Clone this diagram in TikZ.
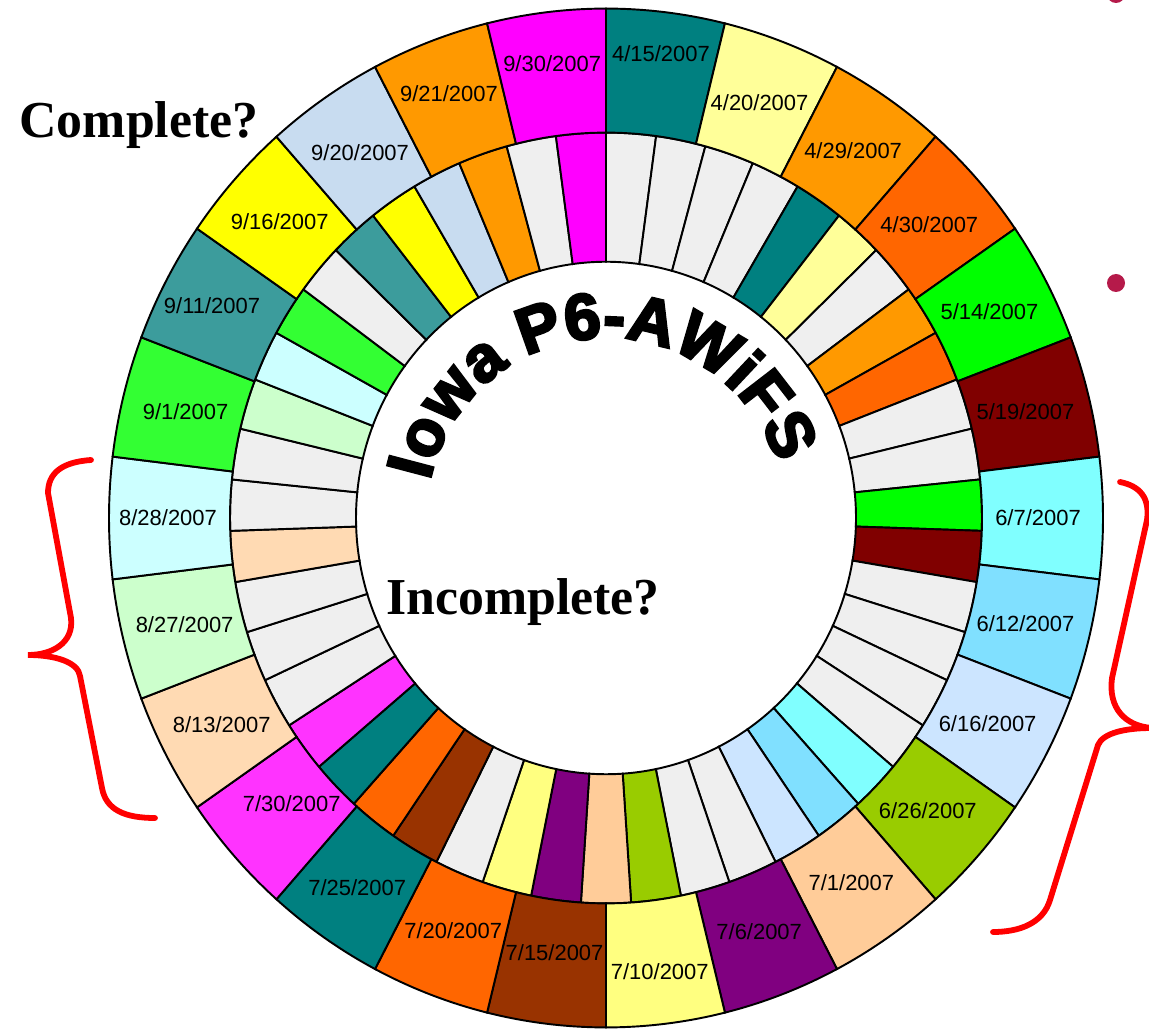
\documentclass[tikz,border=0pt]{standalone}
\usepackage{fontspec}
\setmainfont{Liberation Serif}
\setsansfont{Liberation Sans}
\newfontfamily\heavyfont[FakeBold=4, BoldFeatures={FakeBold=4}]{Liberation Sans}
\usetikzlibrary{decorations.text}

\definecolor{seaTeal}{HTML}{008080}
\definecolor{paleYellow}{HTML}{FFFF99}
\definecolor{amber}{HTML}{FF9900}
\definecolor{flame}{HTML}{FF6600}
\definecolor{brightGreen}{HTML}{00FF00}
\definecolor{maroonRed}{HTML}{800000}
\definecolor{aquaBlue}{HTML}{80FFFF}
\definecolor{skyBlue}{HTML}{80E0FF}
\definecolor{iceBlue}{HTML}{CCE5FF}
\definecolor{leafGreen}{HTML}{99CC00}
\definecolor{apricot}{HTML}{FFCC99}
\definecolor{plum}{HTML}{800080}
\definecolor{butter}{HTML}{FFFF80}
\definecolor{rust}{HTML}{993300}
\definecolor{hotPink}{HTML}{FF33FF}
\definecolor{sand}{HTML}{FFDAB3}
\definecolor{mint}{HTML}{CCFFCC}
\definecolor{frost}{HTML}{CCFFFF}
\definecolor{grassGreen}{HTML}{33FF33}
\definecolor{dullTeal}{HTML}{3C9C9C}
\definecolor{sun}{HTML}{FFFF00}
\definecolor{mist}{HTML}{C8DCF0}
\definecolor{fuchsia}{HTML}{FF00FF}
\definecolor{blank}{HTML}{EFEFEF}
\definecolor{braceRed}{HTML}{FF0000}
\definecolor{dotRed}{HTML}{B51A4A}

\begin{document}
\begin{tikzpicture}[x=0.02cm, y=0.02cm,
    seg/.style={draw=black, line width=1.1pt},
    datelbl/.style={font=\sffamily\fontsize{12.5}{14}\selectfont, inner sep=0pt},
    question/.style={font=\bfseries\fontsize{29.5}{32}\selectfont, inner sep=0pt, anchor=base},
    brace/.style={draw=braceRed, line width=3.3pt, line cap=round},
    bullet/.style={circle, fill=dotRed, minimum size=0.36cm, inner sep=0pt}]

    \useasboundingbox (0,0) rectangle (1149,1028);

    \begin{scope}[shift={(606,510)}, yscale=1.025]
        \foreach \c [count=\i from 0] in {blank,blank,blank,blank,seaTeal,paleYellow,blank,amber,flame,blank,blank,brightGreen,maroonRed,blank,blank,blank,blank,aquaBlue,skyBlue,iceBlue,blank,blank,leafGreen,apricot,plum,butter,blank,rust,flame,seaTeal,hotPink,blank,blank,blank,sand,blank,blank,mint,frost,grassGreen,blank,dullTeal,sun,mist,amber,blank,fuchsia} {
            \pgfmathsetmacro\a{90-(360/47)*\i}
            \pgfmathsetmacro\b{90-(360/47)*(\i+1)}
            \filldraw[seg, fill=\c] (\a:250) arc[start angle=\a, end angle=\b, radius=250]
                -- (\b:376) arc[start angle=\b, end angle=\a, radius=376] -- cycle;
        }

        \foreach \c/\d/\r [count=\i from 0] in {
            seaTeal/{4/15/2007}/456, paleYellow/{4/20/2007}/433, amber/{4/29/2007}/435,
            flame/{4/30/2007}/432, brightGreen/{5/14/2007}/433, maroonRed/{5/19/2007}/432,
            aquaBlue/{6/7/2007}/432, skyBlue/{6/12/2007}/432, iceBlue/{6/16/2007}/431,
            leafGreen/{6/26/2007}/430, apricot/{7/1/2007}/432, plum/{7/6/2007}/432,
            butter/{7/10/2007}/446, rust/{7/15/2007}/427, flame/{7/20/2007}/431,
            seaTeal/{7/25/2007}/438, hotPink/{7/30/2007}/420, sand/{8/13/2007}/434,
            mint/{8/27/2007}/434, frost/{8/28/2007}/438, grassGreen/{9/1/2007}/433,
            dullTeal/{9/11/2007}/445, sun/{9/16/2007}/436, mist/{9/20/2007}/433,
            amber/{9/21/2007}/443, fuchsia/{9/30/2007}/447} {
            \pgfmathsetmacro\a{90-(360/26)*\i}
            \pgfmathsetmacro\b{90-(360/26)*(\i+1)}
            \pgfmathsetmacro\m{90-(360/26)*(\i+0.5)}
            \filldraw[seg, fill=\c] (\a:376) arc[start angle=\a, end angle=\b, radius=376]
                -- (\b:497) arc[start angle=\b, end angle=\a, radius=497] -- cycle;
            \node[datelbl] (d\i) at (\m:\r) {\d};
        }
    \end{scope}

    \path[decorate, decoration={text along path, text align=center,
        text={|\heavyfont\bfseries\fontsize{37}{37}\selectfont|Iowa P6-AWiFS}}]
        (606,510) ++(178:180) arc[start angle=178, end angle=7.6, radius=180];

    \node[question] (complete) at (139,890) {Complete?};
    \node[question] (incomplete) at (523,413) {Incomplete?};

    \draw[brace] (91,568) .. controls (62,566) and (48,555) .. (48,535) -- (71,410)
        .. controls (74,385) and (52,373) .. (28,373)
        .. controls (55,373) and (78,366) .. (80,352) -- (102,240)
        .. controls (106,218) and (125,210) .. (155,210);
    \draw[brace] (1120,546) .. controls (1140,542) and (1150,530) .. (1147,508) -- (1112,350)
        .. controls (1108,320) and (1125,302) .. (1152,300)
        .. controls (1125,300) and (1103,295) .. (1098,283) -- (1050,128)
        .. controls (1043,105) and (1020,96) .. (993,96);

    \node[bullet] (dotA) at (1116,745) {};
    \node[bullet] (dotB) at (1116,1034) {};
\end{tikzpicture}
\end{document}
